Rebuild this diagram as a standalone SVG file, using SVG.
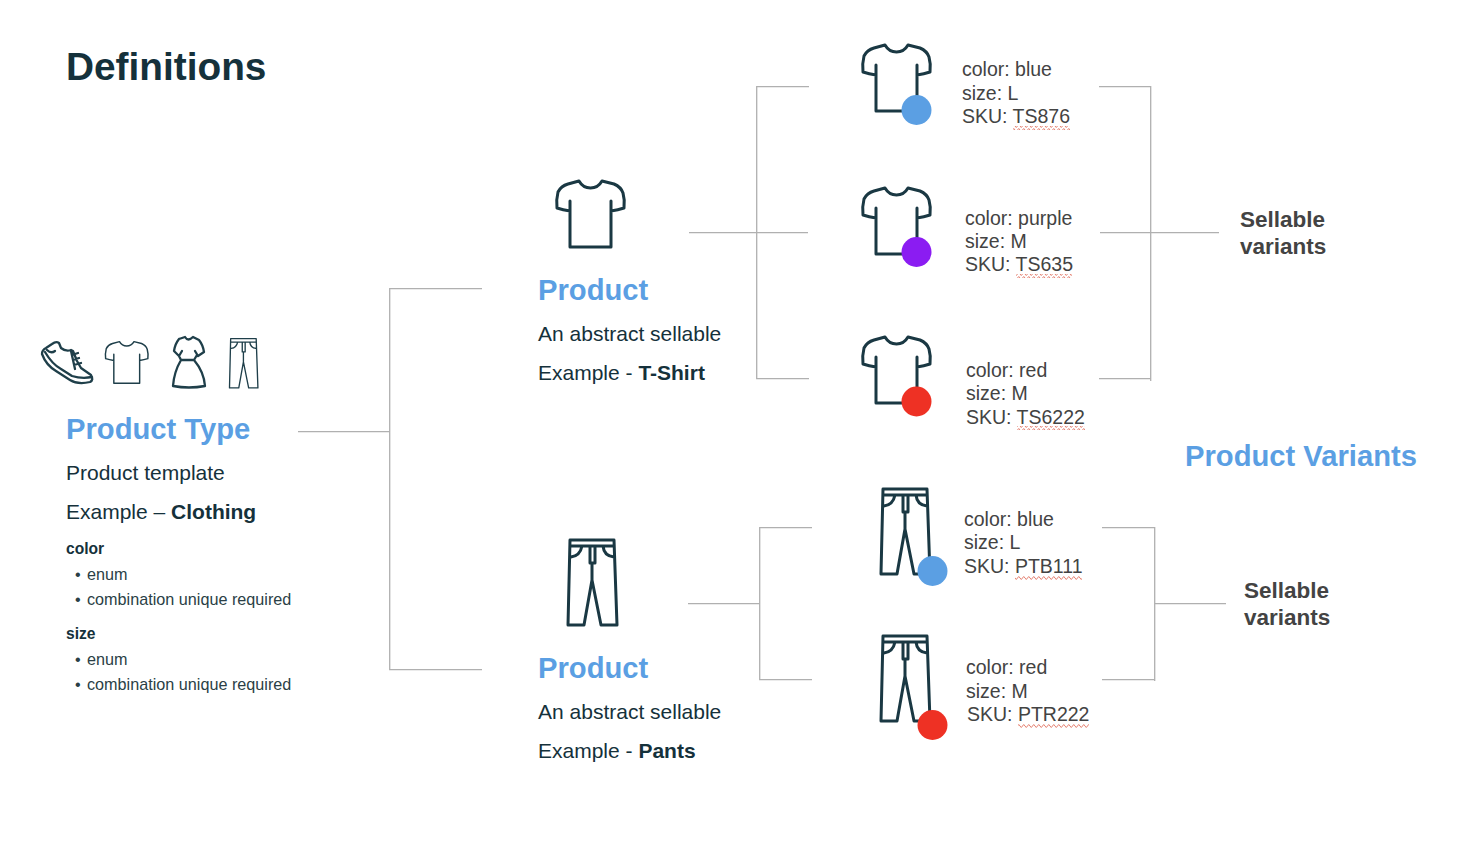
<svg xmlns="http://www.w3.org/2000/svg" width="1458" height="860" viewBox="0 0 1458 860">
<style>
text{font-family:"Liberation Sans",Arial,sans-serif;fill:#15313b}
.title{font-size:38.8px;font-weight:700}
.head{font-size:29.2px;font-weight:700;fill:#5b9fe3}
.body{font-size:21px}
.b{font-weight:700}
.attr{font-size:15.6px;font-weight:700}
.li{font-size:16.2px;fill:#2b3f46}
.var{font-size:19.5px;fill:#434343}
.sell{font-size:22.5px;font-weight:700;fill:#434343}
.ln{fill:none;stroke:#b0b0b0;stroke-width:1.3}
.ic{fill:none;stroke:#1a3843;stroke-width:3;stroke-linejoin:round;stroke-linecap:round}
.ics{fill:none;stroke:#1f3f4a;stroke-width:2.3;stroke-linejoin:round;stroke-linecap:round}
</style>
<defs>
<symbol id="tee" overflow="visible">
<path d="M14 21V67H55V21M14 31Q7 30 1 28Q0 20 2 12Q5 6 12 4L23 1Q27 8 34.500 8Q42 8 46 1L58 4Q65 7 67 13Q69 20 68 28Q62 30 55 31"/>
</symbol>
<symbol id="pants" overflow="visible">
<path d="M2 1H46L49 86H33L24 41L16 86H0ZM2 7H46M22 7V24H27V7M3 18Q12 17 14 7M35 7Q36 17 46 18M24 24V41"/>
</symbol>
<pattern id="wave" width="5" height="4" patternUnits="userSpaceOnUse">
<path d="M-2.500 2Q-1.250 -1 0 2T2.500 2T5 2T7.500 2" fill="none" stroke="#e0705f" stroke-width="0.9"/>
</pattern>
</defs>

<g id="connectors">
<path class="ln" d="M298 431.700H389.700M482 288.700H389.700V669.700H482"/>
<path class="ln" d="M689 232.700H808M809 86.700H756.700V378.700H809"/>
<path class="ln" d="M1099 86.700H1150.700V381M1150.700 378.700H1099M1100 232.700H1219"/>
<path class="ln" d="M688 603.700H759.700M812 527.700H759.700V679.700H812"/>
<path class="ln" d="M1102 527.700H1154.700V681M1154.700 679.700H1102M1154.700 603.700H1226"/>
</g>

<g id="title"><text class="title" x="66" y="80">Definitions</text></g>

<g id="product-type">
<g class="ics">
<path d="M42 354Q42 350 46 348L52 344Q56 341 59 343L61 348Q66 352 71 350L73 351L77 361L81 368L91 375Q94 380 90 382Q78 385 70 380L56 371Q46 365 42 354ZM45 352Q52 364 61 369L72 376Q82 379 92 377M47 350Q51 354 55 351M71 351L75 369M72 355L78 353M73 360L79 358M74 365L81 363"/>
<use href="#tee" transform="translate(105 341) scale(.63)"/>
<path d="M179 339L185 337Q188 342 193 337L199 340Q203 345 204 352L198 356L195 351M179 339Q175 344 174 351L179 356L182 351M179 356L181 360H194L197 355M181 360Q174 372 173 386Q189 389 205 386Q204 372 194 360"/>
<use href="#pants" transform="translate(229.500 338) scale(.58)"/>
</g>
<text class="head" x="66" y="439">Product Type</text>
<text class="body" x="66" y="480">Product template</text>
<text class="body" x="66" y="519">Example – <tspan class="b">Clothing</tspan></text>
<text class="attr" x="66" y="554">color</text>
<text class="li" x="75" y="580">•</text><text class="li" x="87" y="580">enum</text>
<text class="li" x="75" y="605">•</text><text class="li" x="87" y="605">combination unique required</text>
<text class="attr" x="66" y="639">size</text>
<text class="li" x="75" y="665">•</text><text class="li" x="87" y="665">enum</text>
<text class="li" x="75" y="690">•</text><text class="li" x="87" y="690">combination unique required</text>
</g>

<g id="product-tshirt">
<use class="ic" href="#tee" transform="translate(556 180)"/>
<text class="head" x="538" y="300">Product</text>
<text class="body" x="538" y="341">An abstract sellable</text>
<text class="body" x="538" y="380">Example - <tspan class="b">T-Shirt</tspan></text>
</g>

<g id="product-pants">
<use class="ic" href="#pants" transform="translate(568 539)"/>
<text class="head" x="538" y="678">Product</text>
<text class="body" x="538" y="719">An abstract sellable</text>
<text class="body" x="538" y="758">Example - <tspan class="b">Pants</tspan></text>
</g>

<g id="variant-ts876">
<use class="ic" href="#tee" transform="translate(862 44)"/>
<circle cx="916.500" cy="110" r="15" fill="#5b9fe3"/>
<text class="var" x="962" y="76">color: blue</text>
<text class="var" x="962" y="100">size: L</text>
<text class="var" x="962" y="123">SKU: TS876</text>
<rect x="1013" y="126" width="57" height="4" fill="url(#wave)"/>
</g>
<g id="variant-ts635">
<use class="ic" href="#tee" transform="translate(862 187)"/>
<circle cx="916.500" cy="252" r="15" fill="#8b1cf2"/>
<text class="var" x="965" y="225">color: purple</text>
<text class="var" x="965" y="248">size: M</text>
<text class="var" x="965" y="271">SKU: TS635</text>
<rect x="1016" y="274" width="56" height="4" fill="url(#wave)"/>
</g>
<g id="variant-ts6222">
<use class="ic" href="#tee" transform="translate(862 336)"/>
<circle cx="916.500" cy="401.500" r="15" fill="#ee3124"/>
<text class="var" x="966" y="377">color: red</text>
<text class="var" x="966" y="400">size: M</text>
<text class="var" x="966" y="424">SKU: TS6222</text>
<rect x="1017" y="426" width="68" height="4" fill="url(#wave)"/>
</g>
<g id="variant-ptb111">
<use class="ic" href="#pants" transform="translate(881 488)"/>
<circle cx="932.500" cy="571" r="15" fill="#5b9fe3"/>
<text class="var" x="964" y="526">color: blue</text>
<text class="var" x="964" y="549">size: L</text>
<text class="var" x="964" y="573">SKU: PTB111</text>
<rect x="1015" y="576" width="67" height="4" fill="url(#wave)"/>
</g>
<g id="variant-ptr222">
<use class="ic" href="#pants" transform="translate(881 635)"/>
<circle cx="932.500" cy="725" r="15" fill="#ee3124"/>
<text class="var" x="966" y="674">color: red</text>
<text class="var" x="966" y="698">size: M</text>
<text class="var" x="967" y="721">SKU: PTR222</text>
<rect x="1018" y="724" width="71" height="4" fill="url(#wave)"/>
</g>

<g id="sellable-1">
<text class="sell" x="1240" y="227">Sellable</text>
<text class="sell" x="1240" y="254">variants</text>
</g>
<g id="sellable-2">
<text class="sell" x="1244" y="598">Sellable</text>
<text class="sell" x="1244" y="625">variants</text>
</g>
<g id="product-variants"><text class="head" x="1185" y="466">Product Variants</text></g>
</svg>
